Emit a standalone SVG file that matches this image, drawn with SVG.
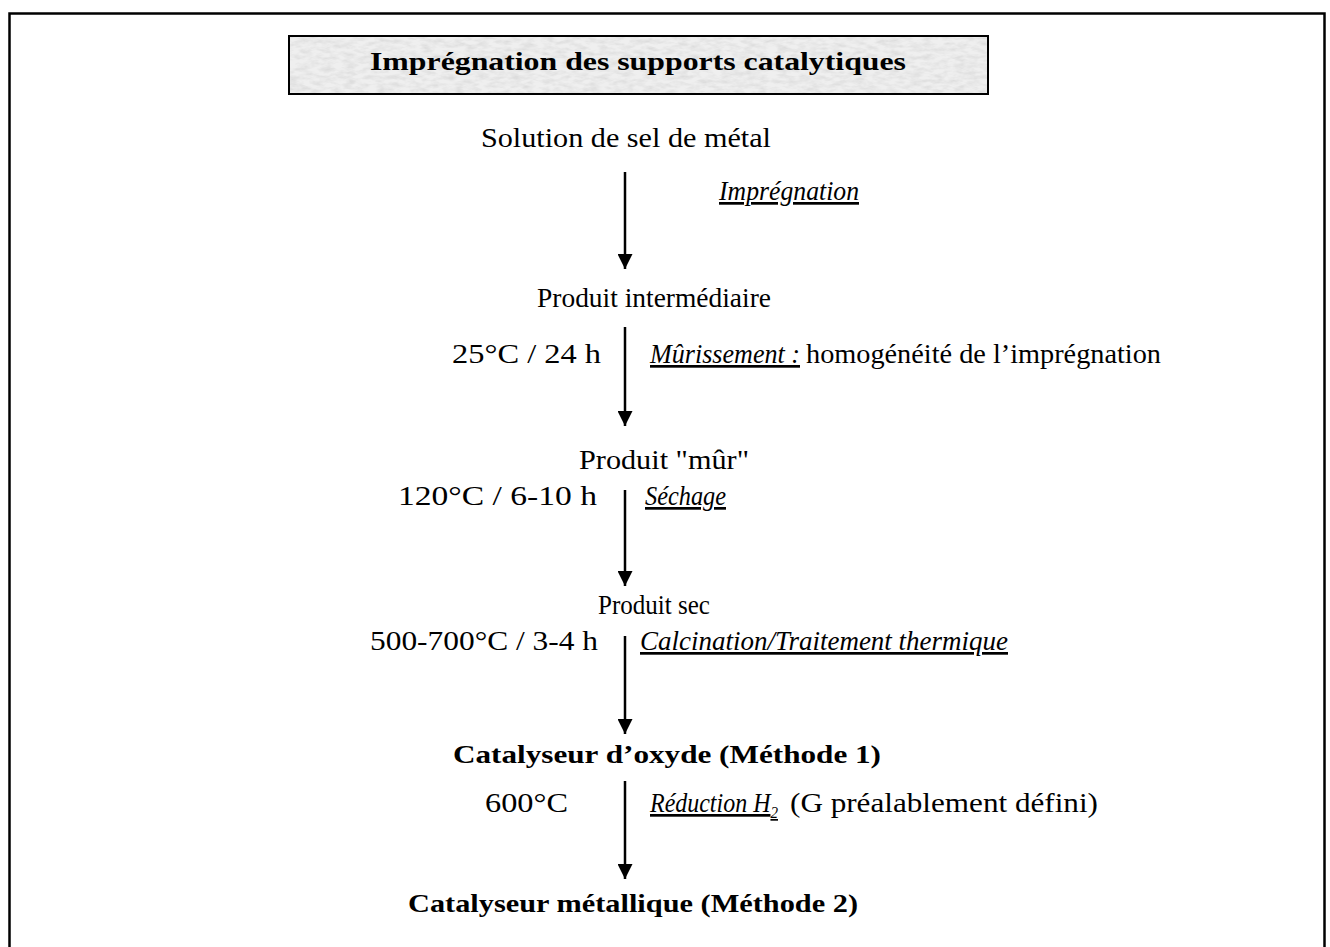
<svg xmlns="http://www.w3.org/2000/svg" width="1330" height="947" viewBox="0 0 1330 947">
<style>
text{font-family:"Liberation Serif","Times New Roman",serif;font-size:27px;fill:#000}
.b{font-weight:bold;font-size:26px}
.i{font-style:italic;text-decoration:underline}
.ln{stroke:#000;stroke-width:2.5;fill:none}
</style>
<defs>
<marker id="ah" viewBox="0 0 10 10" refX="10" refY="5" markerWidth="6" markerHeight="6" markerUnits="strokeWidth" orient="auto">
<path d="M0,0 L10,5 L0,10 Z" fill="#000"/>
</marker>
<filter id="tex" x="0" y="0" width="100%" height="100%">
<feTurbulence type="fractalNoise" baseFrequency="0.09 0.25" numOctaves="3" seed="4"/>
<feColorMatrix type="matrix" values="0 0 0 0 0.72  0 0 0 0 0.72  0 0 0 0 0.72  0 0 0 -2 1.3"/>
<feComposite in2="SourceGraphic" operator="in"/>
</filter>
</defs>
<rect x="0" y="0" width="1330" height="947" fill="#fff"/>
<rect x="9.5" y="13.5" width="1315" height="960" fill="none" stroke="#000" stroke-width="2.5"/>

<g id="title">
<rect x="289" y="36" width="699" height="58" fill="#efefef"/>
<rect x="289" y="36" width="699" height="58" fill="#fff" filter="url(#tex)"/>
<rect x="289" y="36" width="699" height="58" fill="none" stroke="#000" stroke-width="2"/>
<text class="b" x="370" y="70" textLength="536" lengthAdjust="spacingAndGlyphs">Imprégnation des supports catalytiques</text>
</g>

<g id="n1"><text x="481" y="147" textLength="290" lengthAdjust="spacingAndGlyphs">Solution de sel de métal</text></g>
<g id="n2"><text x="537" y="307" textLength="234" lengthAdjust="spacingAndGlyphs">Produit intermédiaire</text></g>
<g id="n3"><text x="579" y="469" textLength="170" lengthAdjust="spacingAndGlyphs">Produit "mûr"</text></g>
<g id="n4"><text x="598" y="614" textLength="112" lengthAdjust="spacingAndGlyphs">Produit sec</text></g>
<g id="n5"><text class="b" x="453" y="763" textLength="428" lengthAdjust="spacingAndGlyphs">Catalyseur d’oxyde (Méthode 1)</text></g>
<g id="n6"><text class="b" x="408" y="912" textLength="450" lengthAdjust="spacingAndGlyphs">Catalyseur métallique (Méthode 2)</text></g>

<g id="connectors">
<line class="ln" x1="625" y1="172" x2="625" y2="269" marker-end="url(#ah)"/>
<line class="ln" x1="625" y1="327" x2="625" y2="426" marker-end="url(#ah)"/>
<line class="ln" x1="625" y1="490" x2="625" y2="586" marker-end="url(#ah)"/>
<line class="ln" x1="625" y1="636" x2="625" y2="734" marker-end="url(#ah)"/>
<line class="ln" x1="625" y1="781" x2="625" y2="879" marker-end="url(#ah)"/>
</g>

<g id="labels">
<text class="i" x="719" y="200" textLength="140" lengthAdjust="spacingAndGlyphs">Imprégnation</text>
<text x="452" y="363" textLength="149" lengthAdjust="spacingAndGlyphs">25°C / 24 h</text>
<text class="i" x="650" y="363" textLength="150" lengthAdjust="spacingAndGlyphs">Mûrissement :</text>
<text x="806" y="363" textLength="355" lengthAdjust="spacingAndGlyphs">homogénéité de l’imprégnation</text>
<text x="398" y="505" textLength="199" lengthAdjust="spacingAndGlyphs">120°C / 6-10 h</text>
<text class="i" x="645" y="505" textLength="81" lengthAdjust="spacingAndGlyphs">Séchage</text>
<text x="370" y="650" textLength="228" lengthAdjust="spacingAndGlyphs">500-700°C / 3-4 h</text>
<text class="i" x="640" y="650" textLength="368" lengthAdjust="spacingAndGlyphs">Calcination/Traitement thermique</text>
<text x="485" y="812" textLength="83" lengthAdjust="spacingAndGlyphs">600°C</text>
<text class="i" x="650" y="812" textLength="128" lengthAdjust="spacingAndGlyphs">Réduction H<tspan dy="6" style="font-size:17px">2</tspan></text>
<text x="790" y="812" textLength="308" lengthAdjust="spacingAndGlyphs">(G préalablement défini)</text>
</g>
</svg>
